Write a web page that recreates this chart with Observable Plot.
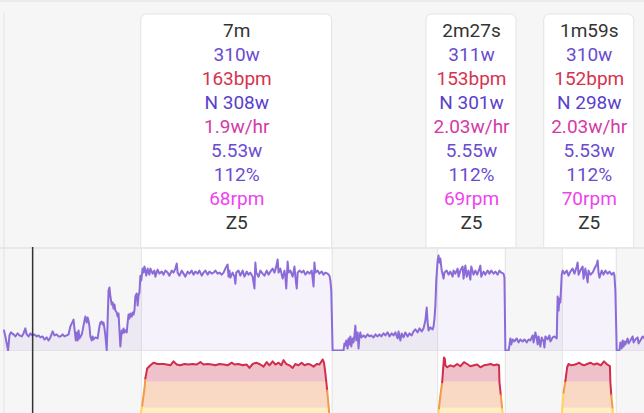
<!DOCTYPE html>
<html><head><meta charset="utf-8">
<script src="https://cdn.jsdelivr.net/npm/d3@7"></script>
<script src="https://cdn.jsdelivr.net/npm/@observablehq/plot@0.6"></script>
<style>
body{margin:0;background:#f6f6f6;}
#chart svg{display:block;overflow:hidden;}
</style></head><body><div id="chart"></div>
<script>
// ---- Data (seconds, watts / bpm) ----
const intervalStart = [302, 954, 1228];
const intervalEnd = [722, 1103, 1347];
const durationLabel = ["7m", "2m27s", "1m59s"];
const avgPower = [310, 311, 310];
const avgHR = [163, 153, 152];
const normPower = [308, 301, 298];
const decoupling = ["1.9", "2.03", "2.03"];
const wPerKg = ["5.53", "5.55", "5.53"];
const pctFTP = [112, 112, 112];
const cadence = [68, 69, 70];
const zoneLabel = ["Z5", "Z5", "Z5"];
const cursorTime = 63;
const lapStart = 0;

const warmupPower = [[0,82],[3,58],[9,2],[12,62],[15,74],[21,66],[25,58],[30,70],[34,62],[39,58],[43,70],[47,90],[50,66],[54,58],[58,70],[63,62],[67,66],[72,58],[76,62],[80,54],[85,58],[89,46],[94,54],[98,42],[102,54],[107,78],[111,62],[116,66],[120,58],[124,58],[129,66],[133,58],[138,62],[142,66],[146,98],[151,117],[153,125],[155,90],[158,42],[160,74],[162,42],[164,82],[166,50],[171,66],[173,82],[177,121],[179,137],[182,113],[184,133],[186,121],[188,98],[190,58],[193,42],[195,58],[197,46],[201,54],[206,50],[210,98],[212,113],[215,117],[217,106],[219,113],[221,90],[223,62],[226,2],[228,121],[230,241],[232,253],[234,217],[237,185],[239,193],[241,169],[243,185],[245,161],[248,153],[250,137],[252,149],[254,82],[256,18],[259,82],[261,70],[263,90],[265,74],[267,82],[270,74],[272,113],[274,145],[276,129],[278,149],[281,137],[283,153],[285,145],[287,161],[289,217],[292,229],[294,181],[296,221],[298,233],[300,300]];
const interval1Power = [[302,281],[305,328],[307,312],[309,336],[311,320],[313,300],[316,328],[318,312],[320,304],[322,328],[327,308],[331,320],[333,296],[338,324],[342,308],[347,316],[351,304],[355,320],[360,312],[364,300],[369,320],[373,312],[377,328],[380,348],[382,312],[386,300],[391,320],[395,308],[399,296],[404,316],[408,308],[413,320],[417,304],[421,316],[426,308],[430,320],[435,300],[439,312],[443,320],[448,304],[452,316],[457,308],[461,312],[465,320],[470,308],[474,312],[479,304],[483,312],[487,328],[492,344],[494,296],[496,320],[498,292],[503,312],[507,296],[509,268],[511,312],[516,320],[520,300],[525,320],[529,296],[534,316],[538,304],[542,312],[547,296],[551,249],[553,352],[555,312],[560,296],[564,320],[569,308],[573,300],[578,320],[582,304],[586,316],[591,328],[595,312],[599,336],[602,364],[604,312],[608,328],[613,288],[617,320],[619,296],[621,249],[624,356],[626,312],[630,320],[635,296],[639,336],[641,296],[644,249],[646,312],[650,320],[655,312],[659,320],[663,304],[668,316],[672,308],[677,320],[681,257],[683,352],[685,312],[690,320],[694,308],[699,316],[703,304],[707,312],[712,308],[716,300],[718,281],[720,241]];
const rest1Power = [[723,2],[729,2],[740,2],[747,2],[749,30],[751,22],[753,42],[756,10],[758,50],[760,26],[762,58],[764,18],[767,50],[769,34],[771,62],[773,101],[775,42],[778,74],[780,10],[782,58],[784,74],[786,54],[791,62],[795,54],[800,66],[804,58],[808,62],[813,54],[817,66],[822,58],[826,66],[830,58],[835,70],[839,62],[844,74],[848,58],[853,70],[857,62],[861,74],[866,50],[868,78],[872,42],[875,70],[879,54],[883,74],[888,58],[892,70],[897,62],[901,78],[905,86],[910,74],[914,90],[919,78],[923,90],[927,121],[930,173],[932,113],[934,82],[938,94],[943,86],[945,98],[947,129],[949,181],[951,281]];
const interval2Power = [[954,360],[956,380],[958,352],[960,368],[963,320],[965,304],[967,288],[969,312],[974,320],[978,304],[982,316],[987,296],[989,320],[993,308],[998,328],[1000,296],[1004,320],[1009,336],[1011,288],[1015,340],[1018,296],[1022,320],[1026,284],[1028,336],[1033,304],[1037,320],[1041,304],[1046,328],[1048,340],[1050,296],[1055,316],[1059,304],[1064,320],[1068,308],[1072,320],[1077,308],[1081,316],[1086,304],[1090,320],[1094,312],[1099,308],[1101,292]];
const rest2Power = [[1103,2],[1110,2],[1112,22],[1114,50],[1116,26],[1119,46],[1123,38],[1128,50],[1132,34],[1136,46],[1141,38],[1145,46],[1150,34],[1154,46],[1158,42],[1163,62],[1165,34],[1169,74],[1172,50],[1174,26],[1176,58],[1180,18],[1183,54],[1187,38],[1189,14],[1191,58],[1196,46],[1200,62],[1202,38],[1207,54],[1211,58],[1216,50],[1218,217],[1220,161],[1222,209],[1224,193]];
const interval3Power = [[1227,304],[1229,320],[1233,308],[1238,320],[1242,300],[1246,316],[1251,328],[1255,308],[1260,336],[1262,352],[1264,304],[1268,320],[1273,336],[1275,288],[1279,328],[1284,273],[1286,320],[1290,304],[1295,312],[1299,328],[1304,344],[1306,360],[1308,312],[1310,292],[1315,320],[1319,304],[1323,320],[1328,308],[1332,316],[1337,304],[1341,312],[1343,300],[1345,241]];
const cooldownPower = [[1348,2],[1354,2],[1356,34],[1359,10],[1361,42],[1363,18],[1365,38],[1367,26],[1372,50],[1374,30],[1378,42],[1383,58],[1385,34],[1389,46],[1394,54],[1396,30],[1400,42],[1405,58],[1409,50]];

const interval1HR = [[300,124],[304,132],[309,145],[311,153],[315,160.5],[322,163],[329,165],[338,164],[344,164],[351,164],[358,163.6],[366,163],[373,166],[380,163.6],[388,163],[397,164],[406,163.6],[415,164],[424,163.6],[432,165.5],[439,163.6],[448,164],[457,163.6],[465,163],[474,164],[483,163.6],[492,163],[501,165],[507,163.6],[516,164],[525,163],[534,163.6],[540,161],[547,164],[555,165],[564,163.6],[571,162],[578,165.5],[584,163],[591,166],[597,163.6],[604,165],[610,163],[615,167],[621,164],[628,163],[635,161],[641,164],[648,163],[655,165],[661,163],[668,164],[674,163.6],[681,162],[688,164],[694,163.6],[701,167.5],[704,165],[707,157],[711,143.6],[714,132],[716,124]];
const interval2HR = [[955,124],[957,130],[960,140],[964,150],[966,160],[968,169],[970,168],[971,163],[975,161.5],[982,163],[989,162],[997,164],[1004,162.3],[1012,165.4],[1019,164],[1026,162.3],[1034,163],[1041,163.6],[1048,161.5],[1056,163],[1063,163.4],[1071,164],[1078,163],[1084,163.6],[1089,163],[1090,150],[1093,140],[1096,129.5],[1098,124]];
const interval3HR = [[1227,124],[1228,129.5],[1231,142],[1235,151],[1239,161.5],[1242,164],[1248,163],[1254,163.4],[1260,164],[1265,165],[1271,163.6],[1276,163],[1283,164],[1290,165],[1298,163.6],[1305,164.4],[1313,163],[1320,166],[1327,163.6],[1333,162.3],[1334,150],[1336,140],[1339,129.5],[1340,124]];
const hrZoneBreaks = [130, 150];

// ---- Layout / style ----
const W = 644;
const X_DOMAIN = [-7.7, 1409.1];
const secPerPx = (X_DOMAIN[1] - X_DOMAIN[0]) / W;
const BG = "#f6f6f6", GRID = "#e3e3e3";
const purple = "#6a4cd0", red = "#d6334f";
const rowSpec = [
  {get: i => durationLabel[i], color: "#333333"},
  {get: i => avgPower[i] + "w", color: purple},
  {get: i => avgHR[i] + "bpm", color: red},
  {get: i => "N " + normPower[i] + "w", color: "#5a3fcc"},
  {get: i => decoupling[i] + "w/hr", color: "#d43aa6"},
  {get: i => wPerKg[i] + "w", color: purple},
  {get: i => pctFTP[i] + "%", color: purple},
  {get: i => cadence[i] + "rpm", color: "#ee44ee"},
  {get: i => zoneLabel[i], color: "#333333"}
];

const intervals = intervalStart.map((s, i) => {
  const e = intervalEnd[i], mid = (s + e) / 2;
  const half = Math.max((e - s) / 2, 45 * secPerPx);
  return {i, start: s, end: e, mid, x1: mid - half, x2: mid + half};
});
const labels = intervals.flatMap(iv => rowSpec.map((r, k) => ({x: iv.mid, row: k, text: r.get(iv.i), color: r.color})));
const boundaries = [lapStart, ...intervalStart, ...intervalEnd];

const toObj = arr => arr.map(([t, w]) => ({t, w}));
const power = toObj([...warmupPower, ...interval1Power, ...rest1Power, ...interval2Power, ...rest2Power, ...interval3Power, ...cooldownPower]);
const hr = [interval1HR, interval2HR, interval3HR].flatMap((a, k) => a.map(([t, bpm]) => ({t, bpm, interval: k})));
const zoneStroke = b => b >= hrZoneBreaks[1] ? "#d22d4b" : b >= hrZoneBreaks[0] ? "#f29a45" : "#ffd45a";

const xs = {domain: X_DOMAIN, range: [0, W], axis: null};
const baseStyle = {background: BG, fontFamily: "Roboto, sans-serif", overflow: "hidden"};

const labelPlot = Plot.plot({
  width: W, height: 247, margin: 0,
  x: xs, y: {domain: [-1.27, 9.02], range: [0, 247], axis: null},
  color: {type: "identity"},
  style: baseStyle,
  marks: [
    Plot.ruleY([-1.27], {stroke: "#ebebeb", strokeWidth: 3}),
    Plot.ruleX([lapStart], {y1: -0.74, y2: 9.5, stroke: GRID}),
    Plot.rect(intervals, {x1: "x1", x2: "x2", y1: -0.69, y2: 9.6, fill: "white", stroke: GRID, rx: 6}),
    Plot.text(labels, {x: "x", y: "row", text: "text", fill: "color", fontSize: 19})
  ]
});

const powerPlot = Plot.plot({
  width: W, height: 104, margin: 0,
  x: xs, y: {domain: [0, 410], range: [103.5, 0.5], axis: null},
  style: baseStyle,
  marks: [
    Plot.rect(intervals, {x1: "start", x2: "end", y1: -50, y2: 500, fill: "white"}),
    Plot.ruleX(boundaries, {stroke: GRID}),
    Plot.ruleY([0, 410], {stroke: GRID, strokeWidth: 1.5}),
    Plot.areaY(power, {x: "t", y: "w", fill: "#7d5fd8", fillOpacity: 0.08}),
    Plot.line(power, {x: "t", y: "w", stroke: "#8a6bd8", strokeWidth: 2}),
    Plot.ruleX([cursorTime], {stroke: "#333", strokeWidth: 1.5})
  ]
});

const hrPlot = Plot.plot({
  width: W, height: 62, margin: 0,
  x: xs, y: {domain: [126, 173.6], range: [62, 0], axis: null},
  color: {type: "identity"},
  style: baseStyle,
  marks: [
    Plot.rect(intervals, {x1: "start", x2: "end", y1: 100, y2: 200, fill: "white"}),
    Plot.ruleX(boundaries, {stroke: GRID}),
    Plot.areaY(hr, {x: "t", y1: 110, y2: d => Math.min(d.bpm, hrZoneBreaks[0]), z: "interval", fill: "#fff0c4"}),
    Plot.areaY(hr, {x: "t", y1: hrZoneBreaks[0], y2: d => Math.max(hrZoneBreaks[0], Math.min(d.bpm, hrZoneBreaks[1])), z: "interval", fill: "#f9d9c3"}),
    Plot.areaY(hr, {x: "t", y1: hrZoneBreaks[1], y2: d => Math.max(d.bpm, hrZoneBreaks[1]), z: "interval", fill: "#efc1ca"}),
    Plot.line(hr, {x: "t", y: "bpm", z: "interval", stroke: d => zoneStroke(d.bpm), strokeWidth: 2}),
    Plot.ruleX([cursorTime], {stroke: "#333", strokeWidth: 1.5})
  ]
});

const root = document.getElementById("chart");
root.append(labelPlot, powerPlot, hrPlot);
</script></body></html>
